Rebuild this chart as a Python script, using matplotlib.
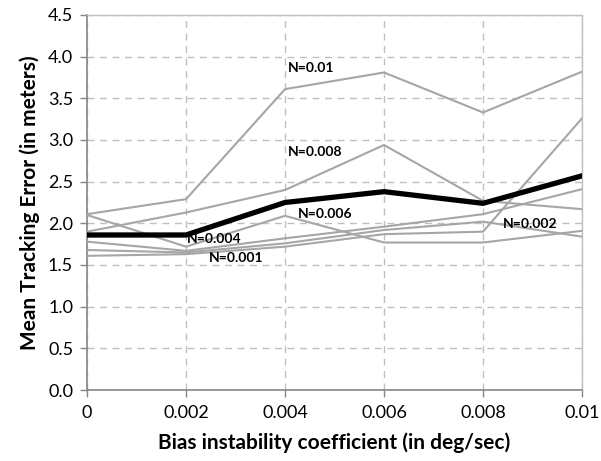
import matplotlib
matplotlib.use('Agg')
import matplotlib.pyplot as plt

plt.rcParams['font.family'] = ['Lato', 'DejaVu Sans']

bias = [0, 0.002, 0.004, 0.006, 0.008, 0.01]

# gray series, one per N value
n_labels = ['N=0.01', 'N=0.008', 'N=0.006', 'N=0.004', 'N=0.002', 'N=0.001']
err_n001 = [2.11, 2.29, 3.61, 3.81, 3.33, 3.82]
err_n0008 = [1.90, 2.13, 2.40, 2.94, 2.27, 2.17]
err_n0006 = [2.10, 1.72, 2.09, 1.77, 1.77, 1.91]
err_n0004 = [1.78, 1.67, 1.82, 1.96, 2.11, 2.41]
err_n0002 = [1.61, 1.63, 1.72, 1.87, 1.90, 3.26]
err_n0001 = [1.68, 1.65, 1.76, 1.92, 2.02, 1.84]
gray_series = [err_n001, err_n0008, err_n0006, err_n0004, err_n0002, err_n0001]

# mean of all
err_mean = [1.86, 1.86, 2.25, 2.38, 2.24, 2.57]

# label anchors (left edge, vertical centre)
label_x = [0.00406, 0.00406, 0.00426, 0.00202, 0.00840, 0.00246]
label_y = [3.86, 2.86, 2.11, 1.81, 1.99, 1.58]

fig = plt.figure(figsize=(6.01, 4.61), dpi=100)
ax = fig.add_axes([0.1448, 0.154, 0.8236, 0.8135])

for s in gray_series:
    ax.plot(bias, s, color='#A6A6A6', lw=1.5, zorder=3)
ax.plot(bias, err_mean, color='black', lw=3.8, zorder=4, solid_joinstyle='miter')

for lab, x, y in zip(n_labels, label_x, label_y):
    ax.text(x, y, lab, fontsize=10, fontweight='bold', ha='left', va='center', zorder=5)

ax.set_xlim(0, 0.01)
ax.set_ylim(0, 4.5)
ax.set_xticks(bias)
ax.set_xticklabels(['0', '0.002', '0.004', '0.006', '0.008', '0.01'])
ax.set_yticks([i * 0.5 for i in range(10)])
ax.set_yticklabels(['%.1f' % (i * 0.5) for i in range(10)])
ax.tick_params(axis='both', labelsize=13, color='#868686', length=5, width=1, direction='out')
ax.tick_params(axis='x', pad=6)
ax.tick_params(axis='y', pad=5)

ax.grid(True, color='#BFBFBF', linestyle=(0, (5, 4)), lw=1)
ax.set_axisbelow(True)
for sp in ['left', 'bottom']:
    ax.spines[sp].set_color('#868686')
    ax.spines[sp].set_linewidth(1.2)
for sp in ['top', 'right']:
    ax.spines[sp].set_color('#BFBFBF')
    ax.spines[sp].set_linewidth(1)

ax.set_xlabel('Bias instability coefficient (in deg/sec)', fontsize=15, fontweight='bold', labelpad=8)
ax.set_ylabel('Mean Tracking Error (in meters)', fontsize=15, fontweight='bold', labelpad=6)

fig.savefig('out.png', dpi=100)
